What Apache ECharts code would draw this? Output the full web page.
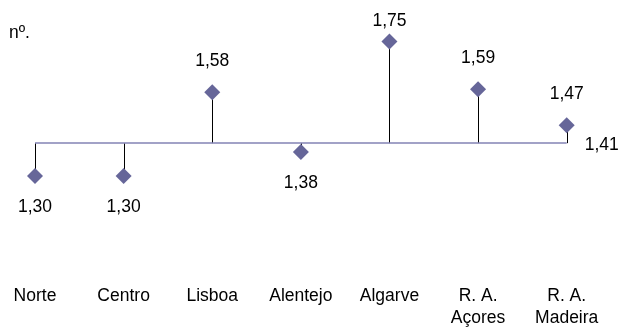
<!DOCTYPE html>
<html>
<head>
<meta charset="utf-8">
<style>
  html, body { margin: 0; padding: 0; background: #ffffff; }
  #chart { width: 621px; height: 329px; }
</style>
<script src="https://cdn.jsdelivr.net/npm/echarts@6/dist/echarts.min.js"></script>
</head>
<body>
<div id="chart"></div>
<script>
// Regions (NUTS II) and their values; the reference line is the national figure
var regions = ['Norte', 'Centro', 'Lisboa', 'Alentejo', 'Algarve', 'R. A.\nAçores', 'R. A.\nMadeira'];
var regionValues = [1.30, 1.30, 1.58, 1.38, 1.75, 1.59, 1.47];
var nationalValue = 1.41;
var unitLabel = 'nº.';

function fmt(v) { return v.toFixed(2).replace('.', ','); }

var FONT = 'Liberation Sans, Arial, sans-serif';
var FS = 17.5;
var chart = echarts.init(document.getElementById('chart'), null, { renderer: 'canvas' });

chart.setOption({
  animation: false,
  backgroundColor: '#ffffff',
  textStyle: { fontFamily: FONT },
  grid: { left: 35, right: 54.3, top: 26.5, bottom: 135.1 },
  graphic: [{
    type: 'text', left: 9, top: 24,
    style: { text: unitLabel, font: FS + 'px ' + FONT, fill: '#000000' }
  }],
  xAxis: {
    type: 'category',
    data: regions,
    boundaryGap: false,
    axisLine: { show: false },
    axisTick: { show: false },
    splitLine: { show: false },
    axisLabel: {
      interval: 0, margin: 94, color: '#000000',
      fontSize: FS, lineHeight: 22, fontFamily: FONT, verticalAlign: 'top'
    }
  },
  yAxis: {
    type: 'value', min: 1.25, max: 1.80, show: false,
    splitLine: { show: false }
  },
  series: [
    {
      // stems from the national line to each regional value
      type: 'custom',
      data: regionValues.map(function (v, i) { return [i, v]; }),
      z: 2,
      renderItem: function (params, api) {
        var top = api.coord([api.value(0), api.value(1)]);
        var base = api.coord([api.value(0), nationalValue]);
        var x = Math.round(top[0]) + 0.5;
        return {
          type: 'line',
          shape: { x1: x, y1: base[1], x2: x, y2: top[1] },
          style: { stroke: '#000000', lineWidth: 1 }
        };
      }
    },
    {
      type: 'scatter',
      symbol: 'diamond',
      symbolSize: 16,
      z: 4,
      itemStyle: { color: '#666699', opacity: 1 },
      data: regionValues.map(function (v) {
        var above = v >= nationalValue;
        return {
          value: v,
          label: { position: above ? 'top' : 'bottom', distance: above ? 14 : 14 }
        };
      }),
      label: {
        show: true, color: '#000000',
        fontSize: FS, fontFamily: FONT,
        formatter: function (p) { return fmt(p.value); }
      },
      // keep value labels inside the top of the canvas
      labelLayout: function (p) {
        var minTop = 12;
        if (p.labelRect.y < minTop) { return { dy: minTop - p.labelRect.y }; }
        return {};
      },
      markLine: {
        silent: true,
        symbol: 'none',
        lineStyle: { color: '#8383b5', width: 1.5, type: 'solid' },
        label: {
          show: true, position: 'end', distance: 18, offset: [0, 2],
          color: '#000000', fontSize: FS, fontFamily: FONT,
          formatter: function () { return fmt(nationalValue); }
        },
        data: [{ yAxis: nationalValue }]
      }
    }
  ]
});
</script>
</body>
</html>
